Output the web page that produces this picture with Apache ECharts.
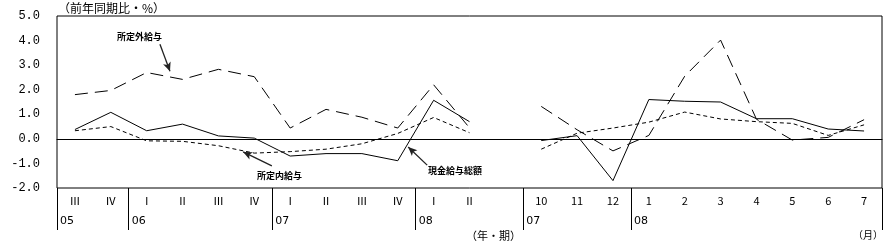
<!DOCTYPE html>
<html><head><meta charset="utf-8">
<script src="https://cdn.jsdelivr.net/npm/echarts@6/dist/echarts.min.js"></script>
<style>html,body{margin:0;padding:0;background:#fff}#c{width:888px;height:251px}</style>
</head><body><div id="c"></div>
<script>
var categories = ['Ⅲ','Ⅳ','Ⅰ','Ⅱ','Ⅲ','Ⅳ','Ⅰ','Ⅱ','Ⅲ','Ⅳ','Ⅰ','Ⅱ','','10','11','12','1','2','3','4','5','6','7'];
var yearLabels = ['05','','06','','','','07','','','','08','','','07','','','08','','','','','','',''];
var yearBoundaries = [0,2,6,10,13,16,23];
var cashTotal = [0.38,1.08,0.33,0.6,0.12,0.03,-0.7,-0.6,-0.6,-0.89,1.57,0.7,null,-0.07,0.13,-1.7,1.6,1.53,1.5,0.82,0.82,0.4,0.32];
var overtimePay = [1.8,1.97,2.7,2.42,2.83,2.53,0.44,1.2,0.88,0.44,2.2,0.45,null,1.32,0.37,-0.49,0.14,2.55,4.02,0.8,-0.05,0.06,0.78];
var scheduledPay = [0.33,0.5,-0.08,-0.1,-0.28,-0.58,-0.52,-0.42,-0.2,0.22,0.87,0.25,null,-0.42,0.23,0.44,0.68,1.09,0.81,0.7,0.63,0.14,0.57];
var yTicks = {min:-2, max:5, interval:1};
// annotation arrows: [fromIndex, fromValue, toIndex, toValue] in category-index / value space
var arrowOvertime = [2.37, 3.85, 2.65, 2.75];
var arrowScheduled = [5.49, -1.1, 4.69, -0.53];
var arrowCash = [9.82, -1.07, 9.29, -0.33];

var chart = echarts.init(document.getElementById('c'), null, {renderer:'canvas'});
var cjk = '"Noto Sans CJK JP", sans-serif';
var blk = '#000';
function arrow(a){ return [{coord:[a[0],a[1]]},{coord:[a[2],a[3]]}]; }
chart.setOption({
  animation:false,
  backgroundColor:'#fff',
  grid:{left:57, right:6, top:16, bottom:63, show:true, borderColor:blk, borderWidth:1, backgroundColor:'transparent'},
  xAxis:[{
    type:'category', data:categories, boundaryGap:true, position:'bottom',
    axisLine:{show:true, lineStyle:{color:blk}}, axisTick:{show:false},
    axisLabel:{interval:0, margin:7, color:blk, fontSize:11, fontFamily:cjk}
  },{
    type:'category', data:yearLabels, boundaryGap:false, position:'bottom',
    axisLine:{show:false},
    axisTick:{show:true, length:42, lineStyle:{color:blk}, interval:function(i){return yearBoundaries.indexOf(i)>=0;}},
    axisLabel:{interval:function(i){return yearBoundaries.indexOf(i)>=0;}, margin:28, align:'left', padding:[0,0,0,3], color:blk, fontSize:11, fontFamily:'"DejaVu Sans", sans-serif'}
  },{
    type:'value', min:-0.5, max:categories.length-0.5, show:false, position:'top'
  }],
  yAxis:{type:'value', min:yTicks.min, max:yTicks.max, interval:yTicks.interval,
    axisLine:{show:false}, axisTick:{show:false}, splitLine:{show:false},
    axisLabel:{margin:17, color:blk, fontSize:12, fontFamily:'"Liberation Mono", monospace', formatter:function(v){return v.toFixed(1);}}
  },
  series:[
    {name:'現金給与総額', type:'line', data:cashTotal, symbol:'none', connectNulls:false,
      lineStyle:{color:blk, width:1, type:'solid'},
      markLine:{silent:true, symbol:'none', label:{show:false}, lineStyle:{color:blk, width:1, type:'solid'}, data:[{yAxis:0}]}
    },
    {name:'所定外給与', type:'line', data:overtimePay, symbol:'none', connectNulls:false,
      lineStyle:{color:blk, width:1, type:[13,7]}},
    {name:'所定内給与', type:'line', data:scheduledPay, symbol:'none', connectNulls:false,
      lineStyle:{color:blk, width:1, type:[4,3]}},
    {name:'arrows', type:'line', xAxisIndex:2, data:[], symbol:'none',
      markLine:{silent:true, symbol:['none','arrow'], symbolSize:[6,9], label:{show:false},
        lineStyle:{color:'#222', width:1.3, type:'solid'},
        data:[arrow(arrowOvertime), arrow(arrowScheduled), arrow(arrowCash)]}}
  ],
  graphic:[
    {type:'text', left:58, top:2, style:{text:'（前年同期比・%）', font:'12px '+cjk, fill:blk}},
    {type:'text', left:117, top:32, style:{text:'所定外給与', font:'bold 9px '+cjk, fill:blk}},
    {type:'text', left:257, top:171, style:{text:'所定内給与', font:'bold 9px '+cjk, fill:blk}},
    {type:'text', left:428, top:166, style:{text:'現金給与総額', font:'bold 9px '+cjk, fill:blk}},
    {type:'text', left:466, top:230, style:{text:'（年・期）', font:'11px '+cjk, fill:blk}},
    {type:'text', left:853, top:230, style:{text:'（月）', font:'10px '+cjk, fill:blk}}
  ]
});
</script></body></html>
